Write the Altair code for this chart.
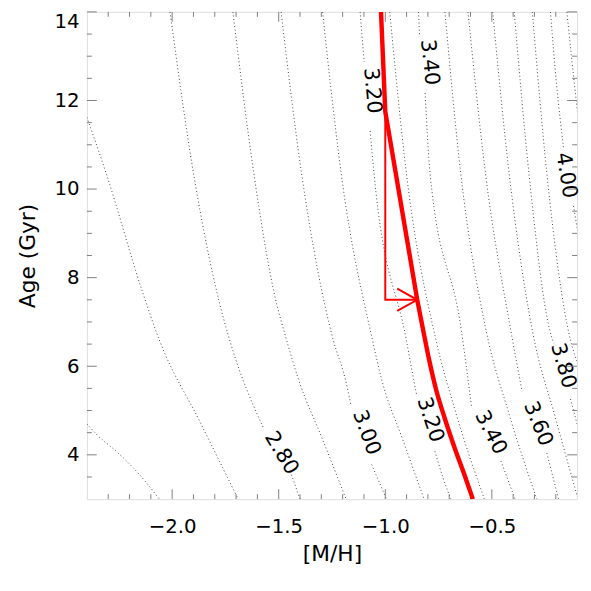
import altair as alt
import pandas as pd

# ---- axis ranges and ticks ----
x_domain = [-2.4, -0.1]
y_domain = [3.0, 14.0]
x_major = [-2.0, -1.5, -1.0, -0.5]
x_minor = [-2.3, -2.2, -2.1, -1.9, -1.8, -1.7, -1.6, -1.4, -1.3, -1.2, -1.1,
           -0.9, -0.8, -0.7, -0.6, -0.4, -0.3, -0.2]
y_major = [4, 6, 8, 10, 12, 14]
y_minor = [3.5, 4.5, 5, 5.5, 6.5, 7, 7.5, 8.5, 9, 9.5, 10.5, 11, 11.5, 12.5, 13, 13.5]

# ---- contour segments: ([M/H], Age) ; a/b/c = pieces either side of a label ----
c260 = [(-2.40, 4.70), (-2.35, 4.44), (-2.26, 4.07), (-2.14, 3.48), (-2.06, 3.0)]
c270 = [(-2.40, 11.62), (-2.31, 10.36), (-2.14, 7.69), (-2.06, 6.59), (-1.87, 4.75), (-1.69, 3.0)]
c280a = [(-2.01, 14.0), (-1.90, 10.36), (-1.78, 7.47), (-1.73, 6.59), (-1.57, 4.59)]
c280b = [(-1.44, 3.55), (-1.40, 3.0)]
c290 = [(-1.715, 14.0), (-1.617, 10.36), (-1.523, 7.69), (-1.463, 6.59), (-1.407, 5.70),
        (-1.296, 4.37), (-1.184, 3.0)]
c300a = [(-1.489, 14.0), (-1.393, 10.36), (-1.244, 6.59), (-1.187, 5.70), (-1.161, 5.12)]
c300b = [(-1.064, 3.78), (-0.994, 3.0)]
c310 = [(-1.294, 14.0), (-1.257, 12.35), (-1.207, 10.36), (-1.060, 6.59), (-1.017, 5.70),
        (-0.920, 4.37), (-0.818, 3.0)]
c320a = [(-1.118, 14.0), (-1.099, 12.87)]
c320b = [(-1.071, 11.31), (-1.053, 10.36), (-0.901, 6.59), (-0.867, 5.70), (-0.852, 5.33)]
c320c = [(-0.767, 4.08), (-0.729, 3.48), (-0.692, 3.0)]
c330 = [(-0.979, 14.0), (-0.901, 10.36), (-0.762, 6.59), (-0.674, 5.03), (-0.535, 3.0)]
c340a = [(-0.844, 14.0), (-0.839, 13.46)]
c340b = [(-0.813, 12.17), (-0.790, 10.36), (-0.643, 6.81), (-0.596, 5.11)]
c340c = [(-0.457, 3.86), (-0.391, 3.0)]
c350 = [(-0.720, 14.0), (-0.646, 10.36), (-0.527, 6.81), (-0.419, 4.92), (-0.289, 3.0)]
c360a = [(-0.612, 14.0), (-0.530, 10.36), (-0.411, 6.81), (-0.358, 5.43)]
c360b = [(-0.242, 4.04), (-0.187, 3.0)]
c370 = [(-0.496, 14.0), (-0.419, 10.36), (-0.310, 6.81), (-0.200, 4.81), (-0.098, 3.04)]
c380a = [(-0.395, 14.0), (-0.326, 10.36), (-0.228, 6.81), (-0.210, 6.52)]
c380b = [(-0.131, 5.26), (-0.094, 4.59)]
c390 = [(-0.310, 14.0), (-0.242, 10.36), (-0.131, 6.59), (-0.094, 6.03)]
c400a = [(-0.225, 14.0), (-0.196, 12.35), (-0.163, 10.91)]
c400b = [(-0.117, 9.62), (-0.094, 8.96)]
c410 = [(-0.148, 14.0), (-0.102, 11.91), (-0.094, 11.57)]

# ---- contour labels (centre of each label) ----
label_text = ["2.80", "3.00", "3.20", "3.40", "3.20", "3.40", "3.60", "3.80", "4.00"]
label_x = [-1.488, -1.090, -1.062, -0.793, -0.790, -0.506, -0.284, -0.166, -0.152]
label_y = [4.035, 4.50, 12.22, 12.86, 4.79, 4.50, 4.70, 6.01, 10.31]
label_angle = [59, 70, 85, 84, 72, 63, 68, 74, 81]

# ---- red track and arrow ----
track_up_x = [-1.02, -1.00, -0.85]
track_up_y = [14.0, 11.75, 7.5]
track_lo_x = [-0.85, -0.822, -0.794, -0.762, -0.720, -0.674, -0.627, -0.589]
track_lo_y = [7.5, 6.81, 6.14, 5.48, 4.81, 4.15, 3.53, 3.0]
arrow_x = [-1.00, -1.00, -0.85]
arrow_y = [11.75, 7.5, 7.5]
head_x = [-0.944, -0.85, -0.944]
head_y = [7.75, 7.5, 7.25]

segments = {
    "c260": c260, "c270": c270, "c280a": c280a, "c280b": c280b, "c290": c290,
    "c300a": c300a, "c300b": c300b, "c310": c310, "c320a": c320a, "c320b": c320b,
    "c320c": c320c, "c330": c330, "c340a": c340a, "c340b": c340b, "c340c": c340c,
    "c350": c350, "c360a": c360a, "c360b": c360b, "c370": c370, "c380a": c380a,
    "c380b": c380b, "c390": c390, "c400a": c400a, "c400b": c400b, "c410": c410,
}
rows = []
for name, pts in segments.items():
    for i, (mx, ag) in enumerate(pts):
        rows.append({"seg": name, "i": i, "mh": mx, "age": ag})
cdf = pd.DataFrame(rows)

ldf = pd.DataFrame({"txt": label_text, "mh": label_x, "age": label_y, "ang": label_angle})


def path_df(pairs):
    out = []
    for name, xs_, ys_ in pairs:
        for i, (mx, ag) in enumerate(zip(xs_, ys_)):
            out.append({"seg": name, "i": i, "mh": mx, "age": ag})
    return pd.DataFrame(out)


up_df = path_df([("up", track_up_x, track_up_y)])
lo_df = path_df([("lo", track_lo_x, track_lo_y)])
arr_df = path_df([("arrow", arrow_x, arrow_y), ("head", head_x, head_y)])

W, H = 497, 494
FONT = "DejaVu Sans"
xs = alt.Scale(domain=x_domain, nice=False, zero=False)
ys = alt.Scale(domain=y_domain, nice=False, zero=False)

x_axis = alt.Axis(
    values=x_major, title="[M/H]", ticks=False, tickSize=0, domain=False, grid=False,
    labelExpr="replace(format(datum.value, '.1f'), '-', '\u2212')",
    labelPadding=18, labelFont=FONT, labelFontSize=20, labelColor="black",
    titleFont=FONT, titleFontSize=22, titleFontWeight="normal", titleColor="black",
    titleX=W / 2, titleY=62, titleBaseline="alphabetic", titleAlign="center")
y_axis = alt.Axis(
    values=y_major, format="d", title="Age (Gyr)", ticks=False, tickSize=0,
    domain=False, grid=False, labelFlush=True, labelPadding=8,
    labelFont=FONT, labelFontSize=20, labelColor="black",
    titleFont=FONT, titleFontSize=22, titleFontWeight="normal", titleColor="black",
    titleAngle=270, titleX=-53, titleY=H / 2, titleBaseline="alphabetic",
    titleAlign="center")


def X(field="mh"):
    return alt.X(f"{field}:Q", scale=xs, axis=x_axis)


def Y(field="age"):
    return alt.Y(f"{field}:Q", scale=ys, axis=y_axis)


contours = alt.Chart(cdf).mark_line(
    color="#444444", strokeWidth=1, strokeDash=[1, 2.6], clip=True, interpolate="monotone"
).encode(x=X(), y=Y(), detail="seg:N", order="i:Q")

labels = alt.Chart(ldf).mark_text(
    font=FONT, fontSize=21, color="black", baseline="middle", align="center"
).encode(x=X(), y=Y(), text="txt:N", angle=alt.Angle("ang:Q", scale=None))

TICK = "#7f7f7f"


def xticks(vals, length):
    d = pd.DataFrame({"mh": vals})
    b = alt.Chart(d).mark_rule(color=TICK, strokeWidth=1).encode(
        x=X(), y=alt.value(H), y2=alt.value(H - length))
    t = alt.Chart(d).mark_rule(color=TICK, strokeWidth=1).encode(
        x=X(), y=alt.value(0), y2=alt.value(length))
    return [b, t]


def yticks(vals, length):
    d = pd.DataFrame({"age": vals})
    l = alt.Chart(d).mark_rule(color=TICK, strokeWidth=1).encode(
        y=Y(), x=alt.value(0), x2=alt.value(length))
    r = alt.Chart(d).mark_rule(color=TICK, strokeWidth=1).encode(
        y=Y(), x=alt.value(W), x2=alt.value(W - length))
    return [l, r]


track_up = alt.Chart(up_df).mark_line(color="#ff0000", strokeWidth=4.5, clip=True).encode(
    x=X(), y=Y(), order="i:Q")
track_lo = alt.Chart(lo_df).mark_line(
    color="#ff0000", strokeWidth=4.5, clip=True, interpolate="monotone").encode(
    x=X(), y=Y(), order="i:Q")
arrow = alt.Chart(arr_df).mark_line(color="#ff0000", strokeWidth=2).encode(
    x=X(), y=Y(), detail="seg:N", order="i:Q")

chart = alt.layer(
    contours, labels,
    *xticks(x_major, 10), *xticks(x_minor, 5), *yticks(y_major, 10), *yticks(y_minor, 5),
    arrow, track_up, track_lo,
).properties(
    width=W, height=H,
    autosize=alt.AutoSizeParams(type="none"),
    padding={"left": 80, "top": 0, "right": 6, "bottom": 75},
).configure_view(stroke=TICK, strokeWidth=1).configure(background="white")

chart.save("out.html", embed_options={"renderer": "svg", "actions": False})
